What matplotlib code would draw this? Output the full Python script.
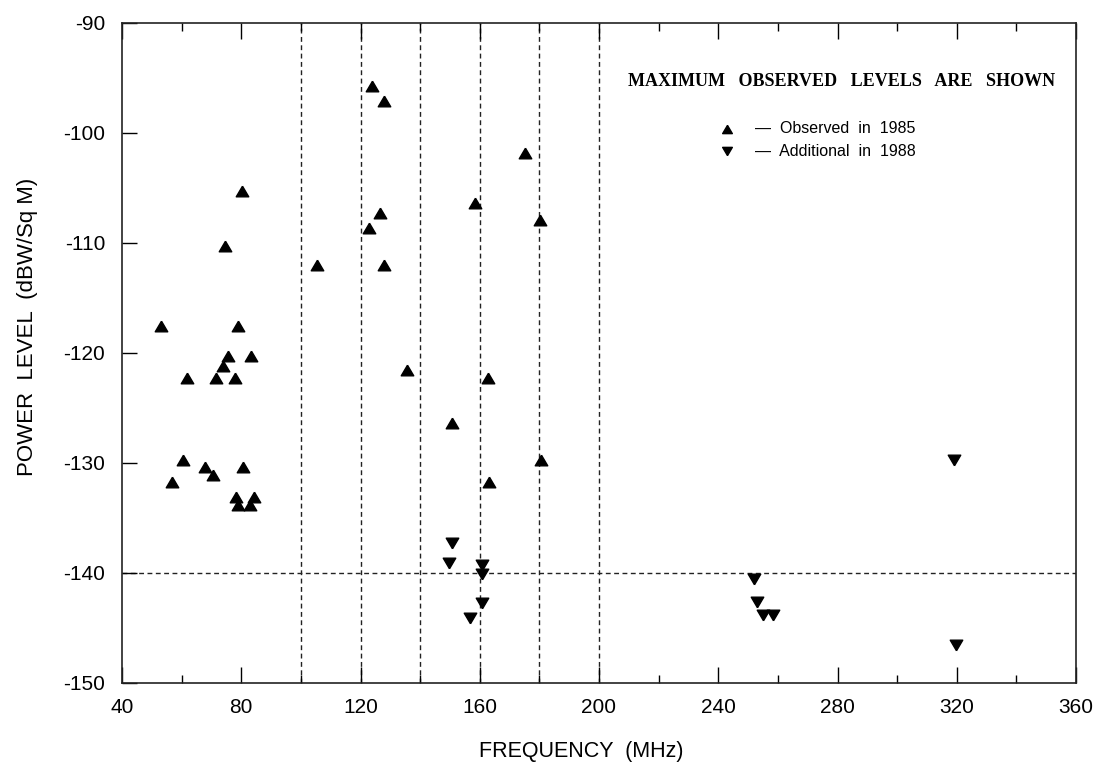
import matplotlib
matplotlib.use("Agg")
import matplotlib.pyplot as plt
from matplotlib.ticker import MultipleLocator

# Observed in 1985 (up triangles)
obs85_freq = [123.9, 127.9, 80.3, 126.6, 122.9, 74.6, 105.5, 127.9, 53.1, 79.0,
              75.6, 83.2, 74.0, 61.7, 71.5, 77.9, 60.6, 56.7, 68.0, 70.6, 80.5,
              78.3, 84.3, 79.0, 83.0, 175.2, 158.5, 180.3, 135.6, 162.8, 150.7,
              180.6, 163.2]
obs85_level = [-95.7, -97.1, -105.3, -107.3, -108.6, -110.3, -112.0, -112.0, -117.5, -117.5,
               -120.3, -120.3, -121.2, -122.3, -122.3, -122.3, -129.7, -131.7, -130.4, -131.1, -130.4,
               -133.1, -133.1, -133.8, -133.8, -101.8, -106.4, -107.9, -121.5, -122.3, -126.4,
               -129.7, -131.7]

# Additional in 1988 (down triangles)
add88_freq = [150.7, 149.7, 160.8, 160.8, 160.8, 156.8, 319.2, 252.1, 253.1, 255.1, 258.5, 319.9]
add88_level = [-137.3, -139.1, -139.3, -140.1, -142.7, -144.1, -129.7, -140.5, -142.6, -143.8, -143.8, -146.5]

vlines = [100, 120, 140, 160, 180, 200]
hline = -140

x_ticks = [40, 80, 120, 160, 200, 240, 280, 320, 360]
y_ticks = [-150, -140, -130, -120, -110, -100, -90]

plt.rcParams['font.family'] = ['Liberation Sans', 'DejaVu Sans']
plt.rcParams['axes.unicode_minus'] = False

up_tri = [(0, 0.85), (-1, -0.85), (1, -0.85), (0, 0.85)]
down_tri = [(0, -0.85), (-1, 0.85), (1, 0.85), (0, -0.85)]

fig = plt.figure(figsize=(10.98, 7.74), dpi=100)
ax = fig.add_axes([122/1098, 1-683/774, 954/1098, 660/774])

for v in vlines:
    ax.axvline(v, color='#222222', lw=1.0, dashes=(3.5, 2.5), zorder=1)
ax.axhline(hline, color='#222222', lw=1.0, dashes=(3.5, 2.5), zorder=1)

ax.plot(obs85_freq, obs85_level, ls='none', marker=up_tri, ms=9, color='black', zorder=3)
ax.plot(add88_freq, add88_level, ls='none', marker=down_tri, ms=9, color='black', zorder=3)

ax.set_xlim(40, 360)
ax.set_ylim(-150, -90)
ax.set_xticks(x_ticks)
ax.set_yticks(y_ticks)
ax.xaxis.set_minor_locator(MultipleLocator(20))
ax.tick_params(axis='x', which='major', direction='in', length=11.5, width=1, top=True,
               labelsize=15, pad=11)
ax.tick_params(axis='x', which='minor', direction='in', length=5.5, width=1, top=True)
ax.tick_params(axis='y', which='major', direction='in', length=11, width=1, right=False,
               labelsize=15, pad=12)
for s in ax.spines.values():
    s.set_linewidth(1.2)
    s.set_color('#222222')

ax.set_xlabel('FREQUENCY  (MHz)', fontsize=15.5)
ax.xaxis.set_label_coords((581-122)/954, (683-752)/660)
ax.xaxis.label.set_va('center')
ax.set_ylabel('POWER  LEVEL  (dBW/Sq M)', fontsize=16)
ax.yaxis.set_label_coords((28-122)/954, (683-327)/660)
ax.yaxis.label.set_va('center')

ax.text(0.7545, 0.912, 'MAXIMUM   OBSERVED   LEVELS   ARE   SHOWN', transform=ax.transAxes,
        ha='center', va='center', fontsize=13, fontweight='bold', family='Liberation Serif')
ax.plot([0.634], [0.840], marker=up_tri, ms=7, color='black', transform=ax.transAxes, ls='none')
ax.plot([0.634], [0.806], marker=down_tri, ms=7, color='black', transform=ax.transAxes, ls='none')
ax.text(0.6635, 0.840, '\u2014  Observed  in  1985', transform=ax.transAxes,
        ha='left', va='center', fontsize=11.5)
ax.text(0.6635, 0.806, '\u2014  Additional  in  1988', transform=ax.transAxes,
        ha='left', va='center', fontsize=11.5)

fig.savefig('out.png', dpi=100)
